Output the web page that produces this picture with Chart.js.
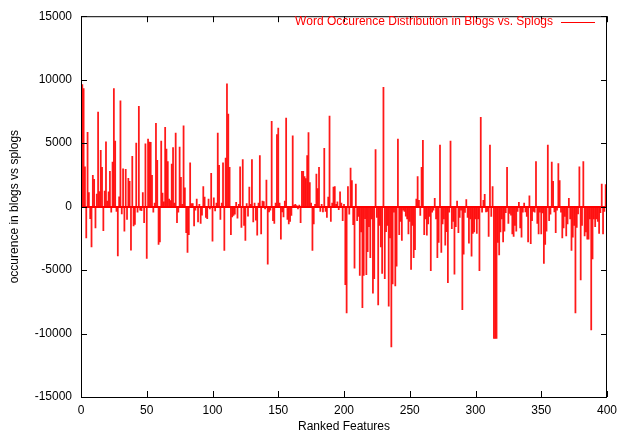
<!DOCTYPE html>
<html lang="en">
<head>
<meta charset="UTF-8">
<title>Word Occurence Distribution</title>
<script src="https://cdn.jsdelivr.net/npm/chart.js"></script>
<style>
  html, body { margin: 0; padding: 0; background: #fff; }
</style>
</head>
<body>
<canvas id="chart" width="624" height="434"></canvas>
<script>
// legend / axis text
const seriesLabel = "Word Occurence Distribution in Blogs vs. Splogs";
const xTitle = "Ranked Features";
const yTitle = "occurence in blogs vs splogs";
const xTicks = [0, 50, 100, 150, 200, 250, 300, 350, 400];
const yTicks = [-15000, -10000, -5000, 0, 5000, 10000, 15000];

// occurence difference per ranked feature (blogs minus splogs)
const occ001 = [9640,9330,3160,-2490,5880,1140,-985,-3210,2490,2180,
  -1710,1010,7465,1200,4460,3110,-1920,1240,5130,470,
  1190,2800,-470,3525,9330,5180,-400,-3910,800,8350,
  -600,3000,-1970,2955,-1040,2255,2020,-3450,3990,-1555,
  -1425,5030,-470,7930,-300,-350,1140,-1300,4980,-4100];
const occ051 = [5340,5100,5080,2490,-470,300,6580,3680,-3000,-2800,
  5180,1090,400,6270,4560,3580,620,500,3370,4670,
  300,5810,-1300,-470,4720,2330,200,6380,1500,-2070,
  -3630,-2230,3470,260,260,-1555,-300,620,-1240,200,
  -1350,-700,1600,780,-880,-985,620,-200,2640,-2750];
const occ101 = [725,-360,300,5810,3270,-1040,310,3470,-3470,3840,
  9690,7310,3110,-2230,-830,-725,-620,360,-930,200,
  3160,-1660,3730,-1500,-2700,260,-780,1555,200,3730,
  -1240,310,-1090,-2280,300,4040,-2180,470,420,-200,
  2125,-4560,-450,-300,6740,-1140,-1350,300,5700,6220];
const occ151 = [300,-2590,-450,-830,470,7000,-1040,-1400,-1190,-725,
  5600,155,200,100,-200,150,-1300,2800,2800,2385,
  2230,4040,5860,1920,300,-3470,-1400,200,2590,1450,
  3110,-400,200,-450,4610,-415,-880,780,7150,-1190,
  300,1555,1600,200,400,-260,1190,300,-1140,200];
const occ201 = [-6170,-8400,1600,-620,3060,2070,-1450,-4870,1810,-1140,
  -800,-5440,-2020,-7980,-5440,-985,-5390,-3580,-1610,-4040,
  -1000,-6840,-5700,4510,-880,-7780,-1500,-3210,-5290,9430,
  -5700,-2000,-1500,-7880,-2500,-11090,-6120,-460,-6270,-4720,
  5340,-2230,-1200,-2700,-300,-400,-780,-1000,-2180,-1200];
const occ251 = [-4980,-1500,-4040,-3420,620,2385,520,-725,3110,5240,
  -2230,-1000,-2280,-1400,-800,-5080,-470,-300,670,-1000,
  -4040,-2850,4870,-3630,-1400,-1000,-3060,-2000,-6010,-470,
  5180,-1760,-1200,-5340,-1610,470,-2070,-880,-300,-8140,
  -3780,-480,570,-880,-2900,-1000,-3940,-2130,-2020,-1000];
const occ301 = [-2130,-1000,-5080,7050,-460,520,985,-450,-400,-2380,
  4870,-800,1600,-10420,-10420,-10420,-2850,-3840,-2020,-1000,
  -2800,-1970,-500,3110,-1350,-570,-700,-2180,-2380,-1500,
  -1970,-400,360,-1710,-2440,-460,310,-450,-800,-2800,
  880,-2950,-1140,-400,-460,3580,-1350,-2180,-460,-2180];
const occ351 = [-520,-4510,-3010,-1970,4870,-1140,-620,3525,2020,-440,
  -2070,-300,3420,2070,-460,-2490,-1710,-800,-2330,-1400,
  670,-1000,-3470,-2440,-1500,-8400,-1660,-600,3160,-5810,
  -1500,3580,-2330,-2020,-2590,-2590,-1000,-9750,-4150,-1000,
  -1610,-1000,-1190,-2130,-500,1810,-2180,-400,1760,-600];

const occurence = [].concat(occ001, occ051, occ101, occ151, occ201, occ251, occ301, occ351);
const ranks = occurence.map((_, i) => i + 1);

const font = { family: "'Liberation Sans', Arial, sans-serif", size: 12 };

// gnuplot style frame with inward ticks, plus the key in the top right
const framePlugin = {
    id: 'frame',
    afterDatasetsDraw(chart) {
        const { ctx, chartArea: a, scales: { x, y } } = chart;
        ctx.save();
        // red baseline at zero like the box outlines
        const y0 = Math.round(y.getPixelForValue(0));
        ctx.strokeStyle = '#ff0000';
        ctx.lineWidth = 2;
        ctx.beginPath();
        ctx.moveTo(a.left, y0);
        ctx.lineTo(a.right, y0);
        ctx.stroke();

        ctx.strokeStyle = '#000';
        ctx.lineWidth = 1;
        ctx.strokeRect(a.left + 0.5, a.top + 0.5, a.right - a.left - 1, a.bottom - a.top);
        ctx.beginPath();
        xTicks.forEach(v => {
            const px = Math.round(x.getPixelForValue(v)) + 0.5;
            ctx.moveTo(px, a.bottom); ctx.lineTo(px, a.bottom - 6);
            ctx.moveTo(px, a.top); ctx.lineTo(px, a.top + 6);
        });
        yTicks.forEach(v => {
            const py = Math.round(y.getPixelForValue(v)) + 0.5;
            ctx.moveTo(a.left, py); ctx.lineTo(a.left + 6, py);
            ctx.moveTo(a.right, py); ctx.lineTo(a.right - 6, py);
        });
        ctx.stroke();

        // key
        ctx.font = `${font.size}px ${font.family}`;
        ctx.fillStyle = '#ff0000';
        ctx.textAlign = 'right';
        ctx.textBaseline = 'middle';
        ctx.fillText(seriesLabel, 553, 22);
        ctx.strokeStyle = '#ff0000';
        ctx.beginPath();
        ctx.moveTo(561, 22.5);
        ctx.lineTo(595, 22.5);
        ctx.stroke();
        ctx.restore();
    }
};

new Chart(document.getElementById('chart'), {
    type: 'bar',
    data: {
        datasets: [{
            label: seriesLabel,
            data: ranks.map((r, i) => ({ x: r, y: occurence[i] })),
            backgroundColor: 'rgba(255, 0, 0, 0.9)',
            borderWidth: 0,
            barPercentage: 1.35,
            categoryPercentage: 1
        }]
    },
    options: {
        responsive: false,
        animation: false,
        devicePixelRatio: 1,
        layout: { padding: { top: 11, right: 17, left: 0, bottom: 0 } },
        plugins: {
            legend: { display: false },
            tooltip: { enabled: false }
        },
        scales: {
            x: {
                type: 'linear',
                offset: false,
                min: 0,
                max: 400,
                afterBuildTicks: s => { s.ticks = xTicks.map(v => ({ value: v })); },
                afterFit: s => { s.height = 37; },
                grid: { display: false, drawTicks: false },
                border: { display: false },
                ticks: { color: '#000', font: font, padding: 6, maxRotation: 0, autoSkip: false },
                title: { display: true, text: xTitle, color: '#000', font: font, padding: { top: 0, bottom: 0 } }
            },
            y: {
                min: -15000,
                max: 15000,
                afterBuildTicks: s => { s.ticks = yTicks.map(v => ({ value: v })); },
                afterFit: s => { s.width = 81; },
                grid: { display: false, drawTicks: false },
                border: { display: false },
                ticks: { color: '#000', font: font, padding: 9, callback: v => String(v) },
                title: { display: true, text: yTitle, color: '#000', font: font, padding: { top: 7, bottom: 0 } }
            }
        }
    },
    plugins: [framePlugin]
});
</script>
</body>
</html>
